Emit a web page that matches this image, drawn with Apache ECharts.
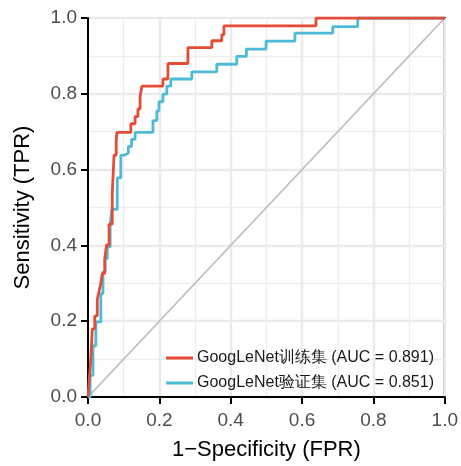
<!DOCTYPE html>
<html>
<head>
<meta charset="utf-8">
<script src="https://cdn.jsdelivr.net/npm/echarts@6/dist/echarts.min.js"></script>
<style>
  html, body { margin: 0; padding: 0; background: #fff; }
  #chart { width: 461px; height: 466px; }
</style>
</head>
<body>
<div id="chart"></div>
<script>
// ROC 曲线数据 (FPR, TPR)
const trainName = 'GoogLeNet训练集 (AUC = 0.891)';
const validName = 'GoogLeNet验证集 (AUC = 0.851)';

const trainFpr = [0, 0.003, 0.003, 0.008, 0.008, 0.012, 0.012, 0.019, 0.019, 0.026, 0.026, 0.031, 0.031, 0.036, 0.036, 0.040, 0.040, 0.047, 0.047, 0.052, 0.052, 0.059, 0.059, 0.068, 0.068, 0.073, 0.073, 0.079, 0.079, 0.081, 0.081, 0.120, 0.120, 0.132, 0.132, 0.140, 0.140, 0.146, 0.146, 0.151, 0.151, 0.210, 0.210, 0.224, 0.224, 0.280, 0.280, 0.347, 0.347, 0.375, 0.375, 0.381, 0.381, 0.639, 0.639, 1];
const trainTpr = [0, 0, 0.039, 0.039, 0.102, 0.102, 0.180, 0.180, 0.214, 0.214, 0.258, 0.258, 0.279, 0.279, 0.299, 0.299, 0.326, 0.326, 0.365, 0.365, 0.401, 0.401, 0.456, 0.456, 0.539, 0.539, 0.638, 0.638, 0.674, 0.674, 0.698, 0.698, 0.721, 0.721, 0.740, 0.740, 0.760, 0.760, 0.792, 0.792, 0.820, 0.820, 0.839, 0.839, 0.880, 0.880, 0.922, 0.922, 0.940, 0.940, 0.956, 0.956, 0.979, 0.979, 1, 1];

const validFpr = [0, 0.006, 0.006, 0.014, 0.014, 0.022, 0.022, 0.036, 0.036, 0.042, 0.042, 0.048, 0.048, 0.054, 0.054, 0.062, 0.062, 0.067, 0.067, 0.082, 0.082, 0.092, 0.092, 0.101, 0.101, 0.113, 0.113, 0.122, 0.122, 0.132, 0.132, 0.182, 0.182, 0.193, 0.193, 0.199, 0.199, 0.210, 0.210, 0.221, 0.221, 0.232, 0.232, 0.291, 0.291, 0.361, 0.361, 0.417, 0.417, 0.444, 0.444, 0.499, 0.499, 0.580, 0.580, 0.686, 0.686, 0.756, 0.756, 1];
const validTpr = [0, 0, 0.057, 0.057, 0.135, 0.135, 0.198, 0.198, 0.273, 0.273, 0.331, 0.331, 0.365, 0.365, 0.396, 0.396, 0.456, 0.456, 0.495, 0.495, 0.578, 0.578, 0.638, 0.638, 0.643, 0.643, 0.661, 0.661, 0.680, 0.680, 0.698, 0.698, 0.729, 0.729, 0.755, 0.755, 0.779, 0.779, 0.799, 0.799, 0.820, 0.820, 0.839, 0.839, 0.858, 0.858, 0.878, 0.878, 0.899, 0.899, 0.918, 0.918, 0.939, 0.939, 0.960, 0.960, 0.977, 0.977, 1, 1];

const refLine = [[0, 0], [1, 1]];
const axisTicks = [0, 0.2, 0.4, 0.6, 0.8, 1.0];

const zip = (xs, ys) => xs.map((x, i) => [x, ys[i]]);

const font = 'Liberation Sans, Arial, sans-serif';

const chart = echarts.init(document.getElementById('chart'));

function axisCommon(name, nameGap, labelMargin) {
  return {
    type: 'value',
    min: axisTicks[0],
    max: axisTicks[axisTicks.length - 1],
    interval: 0.2,
    name: name,
    nameLocation: 'middle',
    nameGap: nameGap,
    nameTextStyle: { color: '#000', fontSize: 22, fontFamily: font },
    axisLine: { show: true, onZero: false, lineStyle: { color: '#000', width: 2 } },
    axisTick: { show: true, length: 7, lineStyle: { color: '#000', width: 2 } },
    axisLabel: {
      color: '#4d4d4d', fontSize: 19, fontFamily: font, margin: labelMargin,
      formatter: v => v.toFixed(1)
    },
    splitLine: { show: true, lineStyle: { color: '#ebebeb', width: 2.4 } },
    minorTick: { show: false, splitNumber: 2 },
    minorSplitLine: { show: true, lineStyle: { color: '#ededed', width: 1.3 } }
  };
}

const option = {
  backgroundColor: '#fff',
  animation: false,
  grid: {
    left: 88,
    right: 16,
    top: 18,
    bottom: 64,
    show: true,
    borderColor: '#000',
    borderWidth: 2,
    backgroundColor: 'transparent'
  },
  legend: {
    data: [trainName, validName],
    orient: 'vertical',
    left: 166,
    top: 350,
    padding: 0,
    itemWidth: 27,
    itemHeight: 3,
    itemGap: 9,
    icon: 'rect',
    textStyle: { color: '#1a1a1a', fontSize: 16, fontFamily: font, lineHeight: 16, padding: [0, 0, 0, -1] }
  },
  xAxis: axisCommon('1\u2212Specificity (FPR)', 42, 14),
  yAxis: axisCommon('Sensitivity (TPR)', 54, 11),
  series: [
    {
      name: 'ref',
      type: 'line',
      data: refLine,
      symbol: 'none',
      silent: true,
      lineStyle: { color: '#bebebe', width: 1.8 },
      z: 1
    },
    {
      name: validName,
      type: 'line',
      data: zip(validFpr, validTpr),
      symbol: 'none',
      itemStyle: { color: '#4dbbd5' },
      lineStyle: { color: '#4dbbd5', width: 2.8 },
      z: 2
    },
    {
      name: trainName,
      type: 'line',
      data: zip(trainFpr, trainTpr),
      symbol: 'none',
      itemStyle: { color: '#e64b35' },
      lineStyle: { color: '#e64b35', width: 2.8 },
      z: 3
    }
  ]
};

chart.setOption(option);
</script>
</body>
</html>
